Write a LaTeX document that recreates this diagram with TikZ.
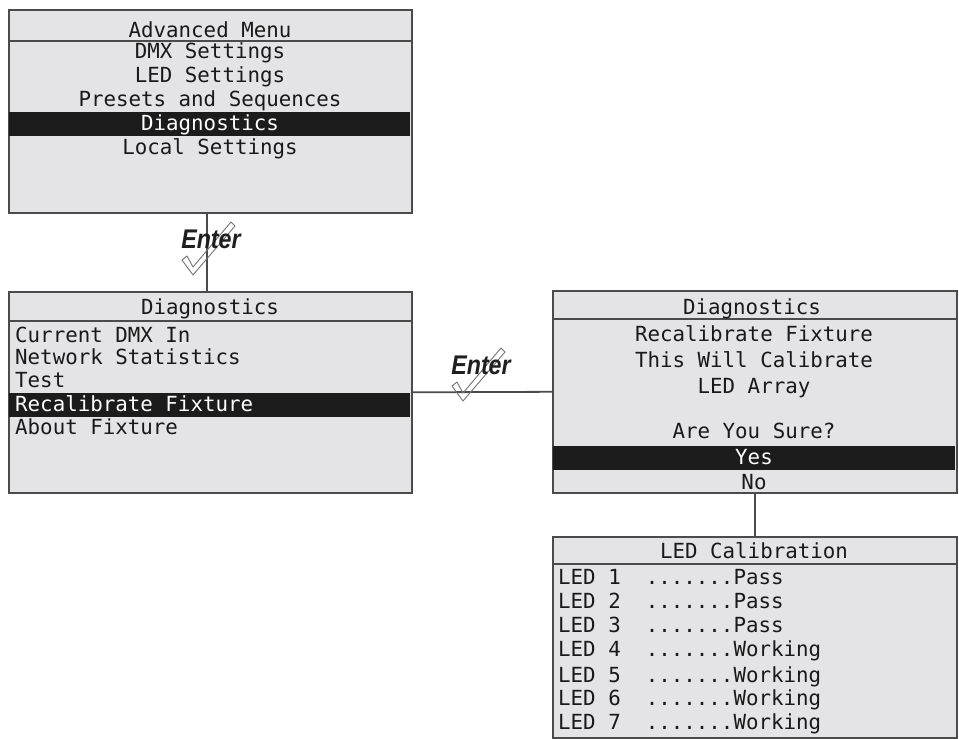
\documentclass[tikz,border=0pt]{standalone}
\usepackage{fontspec}
\setmonofont{DejaVu Sans Mono}
\newfontfamily\enterfont{Liberation Sans}
\usetikzlibrary{calc}
\definecolor{boxgray}{RGB}{228,228,230}
\definecolor{edgegray}{RGB}{75,75,75}
\definecolor{barblack}{RGB}{28,28,28}
\definecolor{txt}{RGB}{25,25,25}
\tikzset{
  menubox/.style={draw=edgegray, line width=1.6pt, fill=boxgray, anchor=north west, inner sep=0pt},
  sep/.style={draw=edgegray, line width=1.6pt},
  hlbar/.style={fill=barblack},
  conn/.style={draw=edgegray, line width=1.8pt},
  row/.style={font=\fontsize{20.8}{24}\selectfont\ttfamily, text=txt, inner sep=0pt},
  rowc/.style={row, anchor=base},
  rowl/.style={row, anchor=base west},
  hlrow/.style={row, anchor=base, text=white},
  hlrowl/.style={row, anchor=base west, text=white},
  entertext/.style={font=\fontsize{27}{30}\selectfont\enterfont\bfseries\itshape, text=black!88, inner sep=0pt, xscale=0.86},
  checkmark/.style={draw=black!55, line width=0.9pt, line join=round},
}
\newcommand\EnterMark[3]{%
  \begin{scope}[shift={(#1,#2)}]
    \path[checkmark] (-29,21) -- (-18,36) -- (24,-13) -- (20,-17) -- (-18,28) -- (-24,17) -- cycle;
    \node[entertext] (#3) at (0,0) {Enter};
  \end{scope}}
\begin{document}
\begin{tikzpicture}[x=1pt,y=-1pt]
\useasboundingbox[fill=white] (0,0) rectangle (959,739);

% Box 1: Advanced Menu
\node[menubox, minimum width=403pt, minimum height=203pt] (b1) at (8,9) {};
\fill[hlbar] (8.8,112) rectangle (410.2,136);
\draw[sep] (8,41) -- (411,41);
\node[rowc] (b1h) at (210,37) {Advanced Menu};
\node[rowc] (b1r1) at (210,58) {DMX Settings};
\node[rowc] (b1r2) at (210,82) {LED Settings};
\node[rowc] (b1r3) at (210,106) {Presets and Sequences};
\node[hlrow] (b1r4) at (210,130) {Diagnostics};
\node[rowc] (b1r5) at (210,154) {Local Settings};

% Box 2: Diagnostics list
\node[menubox, minimum width=403pt, minimum height=201pt] (b2) at (8,291) {};
\fill[hlbar] (8.8,393) rectangle (410.2,417);
\draw[sep] (8,321) -- (411,321);
\node[rowc] (b2h) at (210,314) {Diagnostics};
\node[rowl] (b2r1) at (15,342) {Current DMX In};
\node[rowl] (b2r2) at (15,364) {Network Statistics};
\node[rowl] (b2r3) at (15,387) {Test};
\node[hlrowl] (b2r4) at (15,411) {Recalibrate Fixture};
\node[rowl] (b2r5) at (15,434) {About Fixture};

% Box 3: Recalibrate confirm
\node[menubox, minimum width=404pt, minimum height=202pt] (b3) at (552,290) {};
\fill[hlbar] (552.8,446) rectangle (955.2,470);
\draw[sep] (552,319) -- (956,319);
\node[rowc] (b3h) at (752,314) {Diagnostics};
\node[rowc] (b3r1) at (754,341) {Recalibrate Fixture};
\node[rowc] (b3r2) at (754,367) {This Will Calibrate};
\node[rowc] (b3r3) at (754,393) {LED Array};
\node[rowc] (b3r4) at (754,438) {Are You Sure?};
\node[hlrow] (b3r5) at (754,464) {Yes};
\node[rowc] (b3r6) at (754,489) {No};

% Box 4: LED Calibration
\node[menubox, minimum width=404pt, minimum height=201pt] (b4) at (552,536) {};
\draw[sep] (552,564) -- (956,564);
\node[rowc] (b4h) at (754,558) {LED Calibration};
\node[rowl] (b4r1) at (558,584) {LED 1\ \ .......Pass};
\node[rowl] (b4r2) at (558,608) {LED 2\ \ .......Pass};
\node[rowl] (b4r3) at (558,632) {LED 3\ \ .......Pass};
\node[rowl] (b4r4) at (558,656) {LED 4\ \ .......Working};
\node[rowl] (b4r5) at (558,682) {LED 5\ \ .......Working};
\node[rowl] (b4r6) at (558,705) {LED 6\ \ .......Working};
\node[rowl] (b4r7) at (558,729) {LED 7\ \ .......Working};

% Connectors
\coordinate (c1a) at ($(b1.south)+(-3,0)$);
\coordinate (c1b) at ($(b2.north)+(-3,0)$);
\draw[conn] (c1a) -- (c1b);
\draw[conn] (b2.east) -- (b3.west);
\draw[conn] (b3.south) -- (b4.north);

% Enter labels
\EnterMark{211}{239}{enter1}
\EnterMark{481}{365}{enter2}
\end{tikzpicture}
\end{document}
